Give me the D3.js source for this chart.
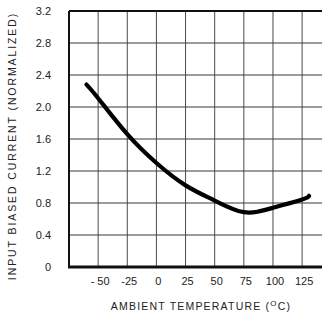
<!DOCTYPE html>
<html>
<head>
<meta charset="utf-8">
<script src="https://cdn.jsdelivr.net/npm/d3@7"></script>
<style>
  body { margin: 0; background: #fff; }
  text { font-family: "Liberation Sans", Arial, sans-serif; fill: #222; }
</style>
</head>
<body>
<svg id="chart"></svg>
<script>
var w = 322, h = 316;

// temperature (°C) and normalized input bias current
var temps = [-60, -50, -25, 0, 25, 50, 75, 100, 125, 131];
var current = [2.28, 2.11, 1.66, 1.30, 1.02, 0.83, 0.685, 0.74, 0.845, 0.89];

var xTicks = [-50, -25, 0, 25, 50, 75, 100, 125];
var xTickLabels = ["- 50", "-25", "0", "25", "50", "75", "100", "125"];
var yTicks = [0, 0.4, 0.8, 1.2, 1.6, 2.0, 2.4, 2.8, 3.2];
var yTickLabels = ["0", "0.4", "0.8", "1.2", "1.6", "2.0", "2.4", "2.8", "3.2"];

var margin = {left: 69, top: 11, bottom: 267};
var plotRight = 69 + 9 * 29.14; // frame runs off the right edge

var svg = d3.select("#chart").attr("width", w).attr("height", h);

var x = d3.scaleLinear().domain([-75, 150]).range([margin.left, plotRight]);
var y = d3.scaleLinear().domain([0, 3.2]).range([margin.bottom, margin.top]);

// grid
var grid = svg.append("g").attr("class", "grid");
grid.selectAll(".vline")
    .data(xTicks.concat([150]))
    .enter().append("line")
    .attr("x1", d => x(d)).attr("x2", d => x(d))
    .attr("y1", y(3.2)).attr("y2", y(0))
    .attr("stroke", "#4a4a4a")
    .attr("stroke-width", 1);
grid.selectAll(".hline")
    .data(yTicks.slice(1, -1))
    .enter().append("line")
    .attr("x1", x(-75)).attr("x2", plotRight)
    .attr("y1", d => y(d)).attr("y2", d => y(d))
    .attr("stroke", "#3a3a3a")
    .attr("stroke-width", 1.2);

// frame
svg.append("line")
    .attr("x1", x(-75)).attr("x2", plotRight)
    .attr("y1", y(3.2)).attr("y2", y(3.2))
    .attr("stroke", "#111").attr("stroke-width", 2);
svg.append("line")
    .attr("x1", x(-75) - 1).attr("x2", plotRight)
    .attr("y1", y(0)).attr("y2", y(0))
    .attr("stroke", "#111").attr("stroke-width", 3);
svg.append("line")
    .attr("x1", x(-75)).attr("x2", x(-75))
    .attr("y1", y(3.2)).attr("y2", y(0))
    .attr("stroke", "#111").attr("stroke-width", 2);

// tick labels
svg.selectAll(".ylab")
    .data(yTicks)
    .enter().append("text")
    .attr("x", 51)
    .attr("y", d => y(d))
    .attr("dy", "0.35em")
    .attr("text-anchor", "end")
    .attr("font-size", 11)
    .text((d, i) => yTickLabels[i]);

svg.selectAll(".xlab")
    .data(xTicks)
    .enter().append("text")
    .attr("x", d => x(d) + 2)
    .attr("y", 285)
    .attr("text-anchor", "middle")
    .attr("font-size", 11)
    .text((d, i) => xTickLabels[i]);

// axis titles
var xt = svg.append("text")
    .attr("x", 201)
    .attr("y", 310)
    .attr("text-anchor", "middle")
    .attr("font-size", 10.5)
    .attr("letter-spacing", 1.2)
    .text("AMBIENT TEMPERATURE (");
xt.append("tspan").attr("dy", -4).attr("font-size", 8).text("O");
xt.append("tspan").attr("dy", 4).text("C)");

svg.append("text")
    .attr("transform", "translate(16,146) rotate(-90)")
    .attr("text-anchor", "middle")
    .attr("font-size", 10.5)
    .attr("letter-spacing", 1.9)
    .text("INPUT BIASED CURRENT (NORMALIZED)");

// curve
var line = d3.line()
    .x((d, i) => x(temps[i]))
    .y(d => y(d))
    .curve(d3.curveNatural);

svg.append("path")
    .datum(current)
    .attr("d", line)
    .attr("fill", "none")
    .attr("stroke", "#000")
    .attr("stroke-width", 4.2)
    .attr("stroke-linecap", "round");
</script>
</body>
</html>
